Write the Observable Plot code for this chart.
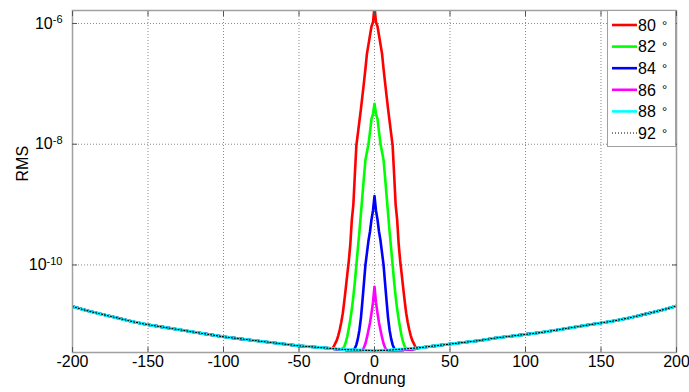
<!DOCTYPE html>
<html><head><meta charset="utf-8">
<script src="https://cdn.jsdelivr.net/npm/d3@7"></script>
<script src="https://cdn.jsdelivr.net/npm/@observablehq/plot@0.6"></script>
<style>
html,body{margin:0;padding:0;background:#fff;}
#wrap{position:relative;width:689px;height:392px;overflow:hidden;}
#legend{position:absolute;left:607px;top:10px;}
</style></head><body><div id="wrap"></div>
<script>
// Series (angle in degrees) and colours
const seriesNames = ["80 °","82 °","84 °","86 °","88 °","92 °"];
const seriesColors = ["#ff0000","#00ff00","#0000ff","#ff00ff","#00ffff","#000000"];

// Shared background curve, log10(RMS) read every 10 orders
const baseOrders = [-200,-190,-180,-170,-160,-150,-140,-130,-120,-110,-100,-90,-80,-70,-60,-50,-40,-30,-20,-10,0,10,20,30,40,50,60,70,80,90,100,110,120,130,140,150,160,170,180,190,200];
const baseLog10 = [-10.69,-10.76,-10.82,-10.88,-10.94,-10.99,-11.03,-11.07,-11.11,-11.15,-11.19,-11.22,-11.25,-11.28,-11.31,-11.34,-11.36,-11.38,-11.40,-11.41,-11.42,-11.41,-11.39,-11.37,-11.34,-11.31,-11.28,-11.25,-11.21,-11.18,-11.15,-11.12,-11.08,-11.04,-11.00,-10.96,-10.92,-10.87,-10.81,-10.75,-10.68];

// Central peaks, log10(RMS) at orders -28..28
const peakOrders = [-28,-27,-26,-25,-24,-23,-22,-21,-20,-19,-18,-17,-16,-15,-14,-13,-12,-11,-10,-9,-8,-7,-6,-5,-4,-3,-2,-1,0,1,2,3,4,5,6,7,8,9,10,11,12,13,14,15,16,17,18,19,20,21,22,23,24,25,26,27,28];
const peak80 = [-11.38,-11.35,-11.3,-11.25,-11.17,-11.07,-10.95,-10.8,-10.6,-10.38,-10.15,-9.93,-9.65,-9.25,-9.0,-8.5,-8.02,-7.82,-7.62,-7.42,-7.2,-6.98,-6.75,-6.5,-6.35,-6.2,-6.05,-5.98,-5.72,-5.98,-6.05,-6.2,-6.35,-6.5,-6.75,-6.98,-7.2,-7.42,-7.62,-7.82,-8.02,-8.5,-9.0,-9.25,-9.65,-9.93,-10.15,-10.38,-10.6,-10.8,-10.95,-11.07,-11.17,-11.25,-11.3,-11.35,-11.38];
const peak82 = [-11.38,-11.39,-11.39,-11.4,-11.4,-11.4,-11.4,-11.38,-11.35,-11.28,-11.18,-11.05,-10.9,-10.73,-10.52,-10.28,-10.0,-9.72,-9.45,-9.15,-8.85,-8.55,-8.26,-8.13,-8.0,-7.8,-7.58,-7.5,-7.33,-7.5,-7.58,-7.8,-8.0,-8.13,-8.26,-8.55,-8.85,-9.15,-9.45,-9.72,-10.0,-10.28,-10.52,-10.73,-10.9,-11.05,-11.18,-11.28,-11.35,-11.38,-11.4,-11.4,-11.4,-11.4,-11.39,-11.39,-11.38];
const peak84 = [-11.38,-11.39,-11.39,-11.4,-11.4,-11.4,-11.4,-11.4,-11.4,-11.41,-11.41,-11.41,-11.41,-11.41,-11.41,-11.38,-11.32,-11.22,-11.08,-10.88,-10.6,-10.3,-10.0,-9.8,-9.6,-9.45,-9.25,-9.1,-8.86,-9.1,-9.25,-9.45,-9.6,-9.8,-10.0,-10.3,-10.6,-10.88,-11.08,-11.22,-11.32,-11.38,-11.41,-11.41,-11.41,-11.41,-11.41,-11.41,-11.4,-11.4,-11.4,-11.4,-11.4,-11.4,-11.39,-11.39,-11.38];
const peak86 = [-11.38,-11.39,-11.39,-11.4,-11.4,-11.4,-11.4,-11.4,-11.4,-11.41,-11.41,-11.41,-11.41,-11.41,-11.41,-11.42,-11.42,-11.42,-11.42,-11.42,-11.41,-11.37,-11.3,-11.2,-11.08,-10.96,-10.8,-10.62,-10.36,-10.62,-10.8,-10.96,-11.08,-11.2,-11.3,-11.37,-11.41,-11.42,-11.42,-11.42,-11.42,-11.42,-11.41,-11.41,-11.41,-11.41,-11.41,-11.41,-11.4,-11.4,-11.4,-11.4,-11.4,-11.4,-11.39,-11.39,-11.38];
const peaks = [peak80, peak82, peak84, peak86, null, null];

const xTicks = [-200,-150,-100,-50,0,50,100,150,200];
const yTicks = [1e-10,1e-8,1e-6];

// Build rows per series
const peakMax = 28;
const seriesRows = seriesNames.map((name, i) => {
  const rows = [];
  const pk = peaks[i];
  baseOrders.forEach((o, j) => {
    if (!pk || Math.abs(o) > peakMax) rows.push({order: o, rms: 10 ** baseLog10[j]});
  });
  if (pk) peakOrders.forEach((o, j) => rows.push({order: o, rms: 10 ** pk[j]}));
  rows.sort((a, b) => a.order - b.order);
  return rows;
});

const lineStyles = [
  {strokeWidth: 2.6}, {strokeWidth: 2.6}, {strokeWidth: 2.6}, {strokeWidth: 2.6}, {strokeWidth: 3},
  {strokeWidth: 1.2, strokeDasharray: "1,2"}
];

const gridStyle = {stroke: "#8a8a8a", strokeOpacity: 1, strokeWidth: 1, strokeDasharray: "1,2"};
const tickStyle = {stroke: "#555", tickFormat: () => "", label: null};

const plot = Plot.plot({
  width: 689, height: 392,
  marginLeft: 72, marginRight: 13, marginTop: 10, marginBottom: 40,
  style: {fontFamily: "'Liberation Sans', Arial, sans-serif", fontSize: "16px", color: "#000", background: "#fff"},
  x: {domain: [-200, 200]},
  y: {type: "log", domain: [10 ** -11.45, 10 ** -5.785]},
  marks: [
    Plot.gridX(xTicks.slice(1, -1), gridStyle),
    Plot.gridY(yTicks, gridStyle),
    ...seriesRows.map((rows, i) => Plot.line(rows, {x: "order", y: "rms", stroke: seriesColors[i], clip: true, ...lineStyles[i]})),
    Plot.frame({stroke: "#a0a0a0", strokeWidth: 1.5}),
    Plot.axisX(xTicks, {anchor: "bottom", tickSize: 5, dy: -5, ...tickStyle}),
    Plot.axisX(xTicks, {anchor: "top", tickSize: 5, dy: 5, ...tickStyle}),
    Plot.axisY(yTicks, {anchor: "left", tickSize: 5, dx: 5, ...tickStyle}),
    Plot.axisY(yTicks, {anchor: "right", tickSize: 5, dx: -5, ...tickStyle}),
    Plot.axisX(xTicks, {anchor: "bottom", tickSize: 0, tickPadding: 3, tickFormat: d => String(d), label: null, fontSize: 16}),
    Plot.axisY(yTicks, {anchor: "left", tickSize: 0, tickPadding: 10, tickFormat: d => "10^" + Math.round(Math.log10(d)), label: null, fontSize: 16}),
    Plot.text(["Ordnung"], {text: d => d, frameAnchor: "bottom", dy: 31, fontSize: 16}),
    Plot.text(["RMS"], {text: d => d, frameAnchor: "left", dx: -50, rotate: -90, fontSize: 16})
  ]
});

// superscript exponents on y tick labels
d3.select(plot).selectAll('g[aria-label="y-axis tick label"] text').each(function () {
  const t = d3.select(this);
  const parts = t.text().split("^");
  if (parts.length === 2) {
    t.text(parts[0]);
    t.append("tspan").attr("dy", "-0.5em").attr("font-size", "11px").text(parts[1]);
  }
});

const wrap = document.getElementById("wrap");
wrap.appendChild(plot);

// Legend
const lg = d3.select(wrap).append("svg").attr("id", "legend").attr("width", 70).attr("height", 140);
lg.append("rect").attr("x", 0.5).attr("y", 0.5).attr("width", 68).attr("height", 136)
  .attr("fill", "#fff").attr("stroke", "#a0a0a0").attr("stroke-width", 1);
seriesNames.forEach((name, i) => {
  const y = 15 + i * 21.6;
  const st = lineStyles[i];
  lg.append("line").attr("x1", 5).attr("x2", 30).attr("y1", y).attr("y2", y)
    .attr("stroke", seriesColors[i]).attr("stroke-width", i === 5 ? 1 : 2.6)
    .attr("stroke-dasharray", st.strokeDasharray || null);
  const [num, deg] = name.split(" ");
  lg.append("text").attr("x", 31).attr("y", y).attr("dy", "0.36em")
    .attr("font-family", "'Liberation Sans Narrow','Arial Narrow','Liberation Sans',Arial,sans-serif")
    .attr("font-size", 16).text(num);
  lg.append("text").attr("x", 55).attr("y", y).attr("dy", "0.36em")
    .attr("font-family", "'Liberation Sans',Arial,sans-serif")
    .attr("font-size", 13).text(deg);
});
</script></body></html>
